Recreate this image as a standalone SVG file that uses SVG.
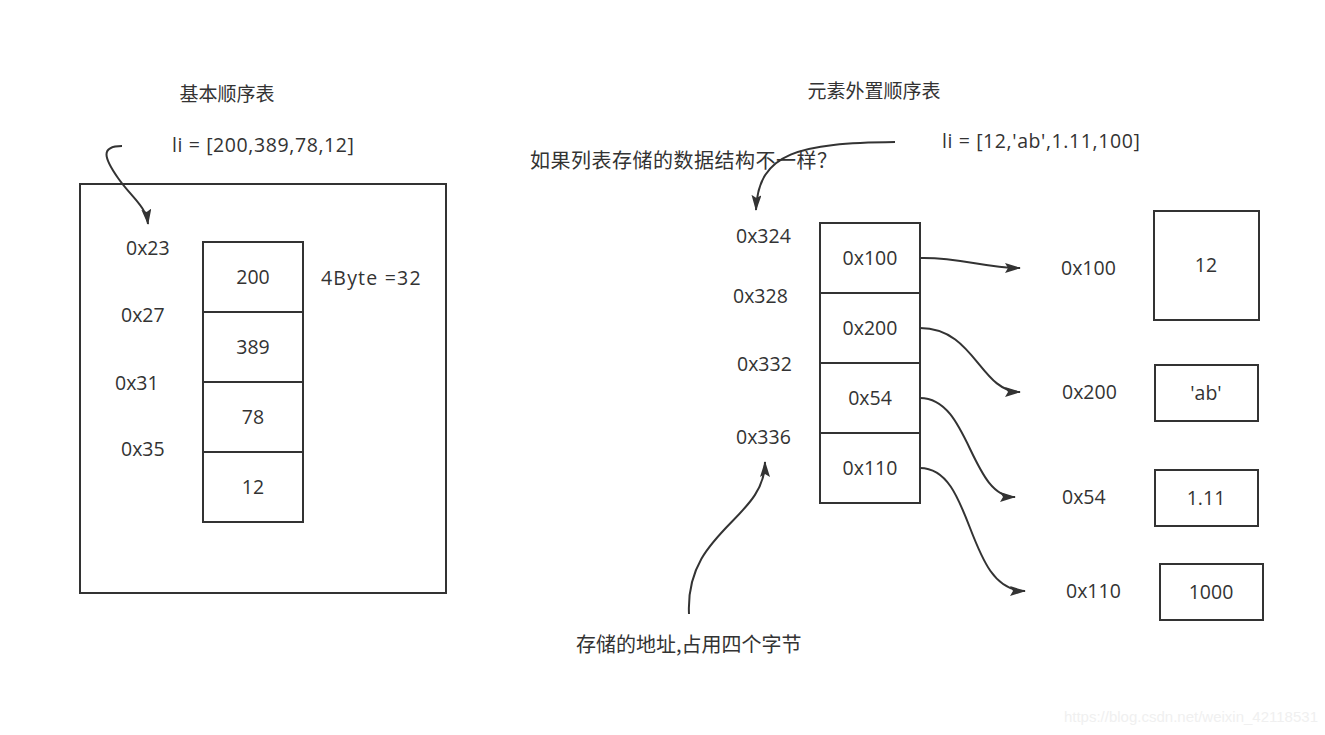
<svg xmlns="http://www.w3.org/2000/svg" width="1325" height="735" viewBox="0 0 1325 735">
<style>
text{font-family:"Open Sans","Noto Sans CJK SC",sans-serif;font-size:19.5px;fill:#333;}
.cjk{font-family:"Noto Sans CJK SC",sans-serif;font-size:20px;}
.t{font-size:19px;}
.ls{letter-spacing:0.6px;}
.c{text-anchor:middle;}
.box{fill:#fff;stroke:#333;stroke-width:2;}
.ln{fill:none;stroke:#333;stroke-width:2;}
</style>
<defs>
<marker id="ah" markerWidth="16" markerHeight="10" refX="15" refY="5" orient="auto" markerUnits="userSpaceOnUse" viewBox="0 0 16 10">
<path d="M0,0 L16,5 L0,10 L3,5 Z" fill="#333"/>
</marker>
</defs>
<rect width="1325" height="735" fill="#fff"/>

<g id="left-title"><text x="227" y="101" class="c cjk t">基本顺序表</text></g>
<g id="left-list"><text x="172" y="152" class="ls">li = [200,389,78,12]</text></g>
<g id="left-frame"><rect x="80" y="184" width="366" height="409" class="box"/></g>
<g id="left-cells">
<rect x="203" y="242" width="100" height="70" class="box"/>
<rect x="203" y="312" width="100" height="70" class="box"/>
<rect x="203" y="382" width="100" height="70" class="box"/>
<rect x="203" y="452" width="100" height="70" class="box"/>
<text x="253" y="284" class="c">200</text>
<text x="253" y="354" class="c">389</text>
<text x="253" y="424" class="c">78</text>
<text x="253" y="494" class="c">12</text>
</g>
<g id="left-addrs">
<text x="126" y="255">0x23</text>
<text x="121" y="322">0x27</text>
<text x="115" y="390">0x31</text>
<text x="121" y="456">0x35</text>
<text x="321" y="285" style="letter-spacing:1.2px">4Byte =32</text>
</g>

<g id="right-title"><text x="874" y="98" class="c cjk t">元素外置顺序表</text></g>
<g id="right-list"><text x="942" y="148" class="ls">li = [12,'ab',1.11,100]</text></g>
<g id="question"><text x="530" y="168" class="cjk" style="letter-spacing:0.5px">如果列表存储的数据结构不一样？</text></g>
<g id="right-cells">
<rect x="820" y="223" width="100" height="70" class="box"/>
<rect x="820" y="293" width="100" height="70" class="box"/>
<rect x="820" y="363" width="100" height="70" class="box"/>
<rect x="820" y="433" width="100" height="70" class="box"/>
<text x="870" y="265" class="c">0x100</text>
<text x="870" y="335" class="c">0x200</text>
<text x="870" y="405" class="c">0x54</text>
<text x="870" y="475" class="c">0x110</text>
</g>
<g id="right-addrs">
<text x="736" y="243">0x324</text>
<text x="733" y="303">0x328</text>
<text x="737" y="371">0x332</text>
<text x="736" y="444">0x336</text>
</g>
<g id="targets">
<text x="1061" y="275">0x100</text>
<text x="1062" y="399">0x200</text>
<text x="1062" y="504">0x54</text>
<text x="1066" y="598">0x110</text>
<rect x="1154" y="211" width="105" height="109" class="box"/>
<rect x="1155" y="365" width="103" height="56" class="box"/>
<rect x="1155" y="470" width="103" height="56" class="box"/>
<rect x="1160" y="564" width="103" height="56" class="box"/>
<text x="1206" y="272" class="c">12</text>
<text x="1206" y="400" class="c">'ab'</text>
<text x="1206" y="505" class="c">1.11</text>
<text x="1211" y="599" class="c">1000</text>
</g>
<g id="bottom-note"><text x="576" y="652" class="cjk">存储的地址,占用四个字节</text></g>

<g id="connectors">
<path class="ln" marker-end="url(#ah)" d="M122,146 C100,146 104,158 118,178 C132,198 146,206 148,224"/>
<path class="ln" marker-end="url(#ah)" d="M895,142 C800,143 758,152 756,210"/>
<path class="ln" marker-end="url(#ah)" d="M920,258 C960,257 985,268 1020,268"/>
<path class="ln" marker-end="url(#ah)" d="M920,328 C975,328 980,392 1020,392"/>
<path class="ln" marker-end="url(#ah)" d="M920,398 C970,398 970,497 1015,497"/>
<path class="ln" marker-end="url(#ah)" d="M920,468 C975,468 965,591 1025,591"/>
<path class="ln" marker-end="url(#ah)" d="M689,614 C685,530 765,520 765,462"/>
</g>

<text x="1318" y="722" style="font-family:'Liberation Sans',sans-serif;font-size:15px;fill:#f0f0f0;text-anchor:end">https://blog.csdn.net/weixin_42118531</text>
</svg>
